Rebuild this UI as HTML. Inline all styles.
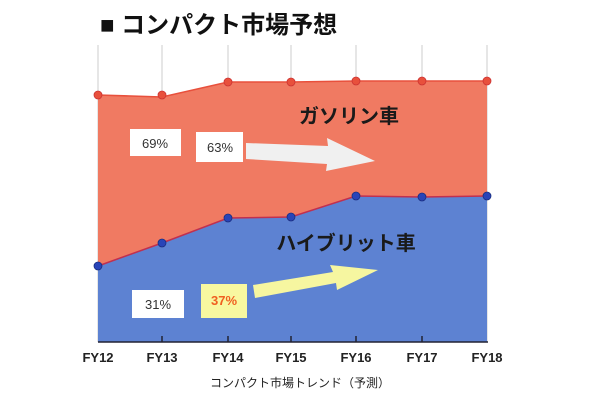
<!DOCTYPE html>
<html><head><meta charset="utf-8"><style>
body{margin:0;background:#fff;width:600px;height:400px;overflow:hidden;font-family:"Liberation Sans","Noto Sans CJK JP",sans-serif}
</style></head><body>
<svg width="600" height="400" viewBox="0 0 600 400" xmlns="http://www.w3.org/2000/svg" style="position:absolute;left:0;top:0">
<text x="100" y="33" font-size="24" font-weight="bold" fill="#111" font-family="Liberation Sans, Noto Sans CJK JP, sans-serif">■ コンパクト市場予想</text>
<g stroke="#ccc" stroke-width="1">
<line x1="98" y1="45" x2="98" y2="342"/><line x1="162" y1="45" x2="162" y2="342"/><line x1="228" y1="45" x2="228" y2="342"/><line x1="291" y1="45" x2="291" y2="342"/><line x1="356" y1="45" x2="356" y2="342"/><line x1="422" y1="45" x2="422" y2="342"/><line x1="487" y1="45" x2="487" y2="342"/>
</g>
<polygon points="98,95 162,97 228,82 291,82 356,81 422,81 487,81 487,342 98,342" fill="#f07a62"/>
<polyline points="98,95 162,97 228,82 291,82 356,81 422,81 487,81" fill="none" stroke="#e8503c" stroke-width="1.5"/>
<polygon points="98,266 162,243 228,218 291,217 356,196 422,197 487,196 487,342 98,342" fill="#5d82d2"/>
<polyline points="98,266 162,243 228,218 291,217 356,196 422,197 487,196" fill="none" stroke="#c03050" stroke-width="1.5"/>
<g fill="#e8503c" stroke="#c33" stroke-width="0.8">
<circle cx="98" cy="95" r="4"/><circle cx="162" cy="95" r="4"/><circle cx="228" cy="82" r="4"/><circle cx="291" cy="82" r="4"/><circle cx="356" cy="81" r="4"/><circle cx="422" cy="81" r="4"/><circle cx="487" cy="81" r="4"/>
</g>
<g fill="#2844b8" stroke="#1a2e80" stroke-width="0.8">
<circle cx="98" cy="266" r="4"/><circle cx="162" cy="243" r="4"/><circle cx="228" cy="218" r="4"/><circle cx="291" cy="217" r="4"/><circle cx="356" cy="196" r="4"/><circle cx="422" cy="197" r="4"/><circle cx="487" cy="196" r="4"/>
</g>
<line x1="98" y1="342" x2="488" y2="342" stroke="#223" stroke-width="1.5"/>
<g stroke="#223" stroke-width="1.5"><line x1="162" y1="336" x2="162" y2="342"/><line x1="228" y1="336" x2="228" y2="342"/><line x1="291" y1="336" x2="291" y2="342"/><line x1="356" y1="336" x2="356" y2="342"/><line x1="422" y1="336" x2="422" y2="342"/></g>
<text x="349" y="123" font-size="20" font-weight="bold" fill="#1a1a1a" text-anchor="middle">ガソリン車</text>
<text x="346" y="250" font-size="20" font-weight="bold" fill="#1a1a1a" text-anchor="middle">ハイブリット車</text>
<rect x="130" y="129" width="51" height="27" fill="#fff"/>
<text x="155" y="148" font-size="13" fill="#333" text-anchor="middle">69%</text>
<rect x="196" y="132" width="47" height="30" fill="#fff"/>
<text x="220" y="152" font-size="13" fill="#333" text-anchor="middle">63%</text>
<polygon points="246,143 328,146 327,138 375,161 326,171 327,164 246,159" fill="#f0f0f0"/>
<rect x="132" y="290" width="52" height="28" fill="#fff"/>
<text x="158" y="309" font-size="13" fill="#333" text-anchor="middle">31%</text>
<rect x="201" y="284" width="46" height="34" fill="#f8f8a0"/>
<text x="224" y="305" font-size="13" font-weight="bold" fill="#f06020" text-anchor="middle">37%</text>
<polygon points="253,285 333,272 330,265 378,270 337,290 336,283 255,298" fill="#f6f6a0"/>
<g font-size="13" font-weight="bold" fill="#222" text-anchor="middle">
<text x="98" y="362">FY12</text><text x="162" y="362">FY13</text><text x="228" y="362">FY14</text><text x="291" y="362">FY15</text><text x="356" y="362">FY16</text><text x="422" y="362">FY17</text><text x="487" y="362">FY18</text>
</g>
<text x="300" y="387" font-size="12" fill="#222" text-anchor="middle">コンパクト市場トレンド（予測）</text>
</svg>
</body></html>
